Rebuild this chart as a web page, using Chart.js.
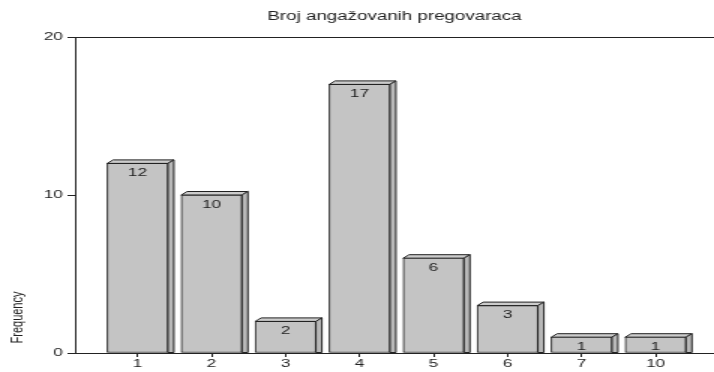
<!DOCTYPE html>
<html>
<head>
<meta charset="utf-8">
<script src="https://cdn.jsdelivr.net/npm/chart.js@4/dist/chart.umd.min.js"></script>
<style>
  html, body { margin: 0; padding: 0; background: #fff; overflow: hidden; }
  /* The chart is laid out at 476px and widened 1.5x, giving the broad lettering and bars */
  #wrap { width: 476px; height: 372px; transform: scaleX(1.5); transform-origin: 0 0; }
</style>
</head>
<body>
<div id="wrap"><canvas id="c" width="476" height="372"></canvas></div>
<script>
const chartTitle = 'Broj angažovanih pregovaraca';
const yAxisLabel = 'Frequency';
const categories = ['1', '2', '3', '4', '5', '6', '7', '10'];
const frequencies = [12, 10, 2, 17, 6, 3, 1, 1];
const yTicks = [0, 10, 20];

const FONT = '"Liberation Sans", Arial, Helvetica, sans-serif';
const INK = '#222';
const DEPTH_X = 4;
const DEPTH_Y = 3.5;

// Draws the top and right faces of each bar, the value inside each bar,
// and the rotated axis caption.
const extrudedBars = {
  id: 'extrudedBars',
  beforeDatasetsDraw(chart) {
    const ctx = chart.ctx;
    const meta = chart.getDatasetMeta(0);
    ctx.save();
    ctx.lineWidth = 1;
    ctx.strokeStyle = INK;
    meta.data.forEach(bar => {
      const { x, y, base, width } = bar.getProps(['x', 'y', 'base', 'width'], true);
      const l = x - width / 2, r = x + width / 2;
      ctx.beginPath();
      ctx.moveTo(l, y);
      ctx.lineTo(l + DEPTH_X, y - DEPTH_Y);
      ctx.lineTo(r + DEPTH_X, y - DEPTH_Y);
      ctx.lineTo(r, y);
      ctx.closePath();
      ctx.fillStyle = '#cccccc';
      ctx.fill();
      ctx.stroke();

      ctx.beginPath();
      ctx.moveTo(r, y);
      ctx.lineTo(r + DEPTH_X, y - DEPTH_Y);
      ctx.lineTo(r + DEPTH_X, base);
      ctx.lineTo(r, base);
      ctx.closePath();
      ctx.fillStyle = '#b9b9b9';
      ctx.fill();
      ctx.stroke();
    });
    ctx.restore();
  },
  afterDatasetsDraw(chart) {
    const ctx = chart.ctx;
    const meta = chart.getDatasetMeta(0);
    ctx.save();
    ctx.font = '11.5px ' + FONT;
    ctx.fillStyle = INK;
    ctx.textAlign = 'center';
    ctx.textBaseline = 'middle';
    meta.data.forEach((bar, i) => {
      const { x, y } = bar.getProps(['x', 'y'], true);
      ctx.fillText(String(frequencies[i]), x, y + 9.5);
    });
    ctx.restore();
  },
  afterDraw(chart) {
    const ctx = chart.ctx;
    ctx.save();
    ctx.font = '11px ' + FONT;
    ctx.fillStyle = INK;
    ctx.textAlign = 'center';
    ctx.textBaseline = 'alphabetic';
    ctx.translate(14.7, 317.5);
    ctx.rotate(-Math.PI / 2);
    ctx.fillText(yAxisLabel, 0, 0);
    ctx.restore();
  }
};

new Chart(document.getElementById('c'), {
  type: 'bar',
  data: {
    datasets: [{
      data: frequencies.map((v, i) => ({ x: i, y: v })),
      backgroundColor: '#c4c4c4',
      borderColor: INK,
      borderWidth: 1,
      borderSkipped: false,
      barThickness: 40.5
    }]
  },
  options: {
    responsive: false,
    animation: false,
    devicePixelRatio: 1,
    layout: { padding: 0 },
    plugins: {
      legend: { display: false },
      tooltip: { enabled: false },
      title: {
        display: true,
        text: chartTitle,
        fullSize: false,
        color: INK,
        font: { family: FONT, size: 12.5, weight: 'normal', lineHeight: 1.2 },
        padding: { top: 9.5, bottom: 12.5 }
      }
    },
    scales: {
      x: {
        type: 'linear',
        min: -0.845,
        max: 7.79,
        offset: false,
        afterBuildTicks(scale) { scale.ticks = categories.map((_, i) => ({ value: i })); },
        afterFit(scale) { scale.height = 19; },
        ticks: {
          callback: v => categories[v],
          font: { family: FONT, size: 11.5 },
          color: INK,
          padding: 0,
          maxRotation: 0,
          autoSkip: false
        },
        grid: { offset: false, drawOnChartArea: false, drawTicks: true, tickLength: 4, tickColor: INK, color: INK },
        border: { display: true, color: INK, width: 1 }
      },
      y: {
        min: 0,
        max: 20,
        afterBuildTicks(scale) { scale.ticks = yTicks.map(v => ({ value: v })); },
        afterFit(scale) { scale.width = 50; },
        ticks: { font: { family: FONT, size: 11.5 }, color: INK, padding: 3 },
        grid: {
          color: c => (c.tick && c.tick.value === 20) ? INK : 'rgba(0,0,0,0)',
          tickColor: INK,
          tickLength: 5
        },
        border: { display: true, color: INK, width: 1 }
      }
    }
  },
  plugins: [extrudedBars]
});
</script>
</body>
</html>
